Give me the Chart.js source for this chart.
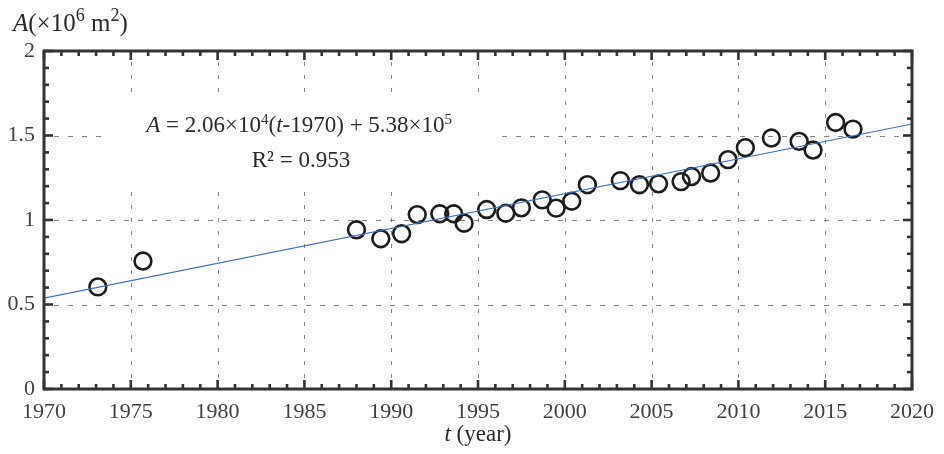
<!DOCTYPE html>
<html><head><meta charset="utf-8">
<script src="https://cdn.jsdelivr.net/npm/chart.js@4.4.0/dist/chart.umd.min.js"></script>
<style>html,body{margin:0;padding:0;background:#fff}#wrap{width:944px;height:454px}</style>
</head><body><div id="wrap"><canvas id="c" width="944" height="454"></canvas></div>
<script>
// ---- data ----
const years = [1973.1, 1975.7, 1988.0, 1989.4, 1990.6, 1991.5, 1992.8, 1993.6, 1994.2, 1995.5,
  1996.6, 1997.5, 1998.7, 1999.5, 2000.4, 2001.3, 2003.2, 2004.3, 2005.4, 2006.7,
  2007.3, 2008.4, 2009.4, 2010.4, 2011.9, 2013.5, 2014.3, 2015.6, 2016.6];
const areas = [0.604, 0.757, 0.942, 0.889, 0.919, 1.032, 1.037, 1.037, 0.981, 1.062,
  1.040, 1.072, 1.119, 1.070, 1.111, 1.209, 1.233, 1.209, 1.214, 1.227,
  1.257, 1.278, 1.357, 1.428, 1.485, 1.465, 1.414, 1.577, 1.538];
const fitYears = [1970, 2020];
const fitAreas = [0.538, 1.568];
const xTickValues = [1970, 1975, 1980, 1985, 1990, 1995, 2000, 2005, 2010, 2015, 2020];
const xTickLabels = ['1970', '1975', '1980', '1985', '1990', '1995', '2000', '2005', '2010', '2015', '2020'];
const yTickValues = [0, 0.5, 1, 1.5, 2];
const yTickLabels = ['0', '0.5', '1', '1.5', '2'];

const FONT = '"Liberation Serif", "Times New Roman", serif';

function fontFor(s, size, supScale) {
  const sz = s.sup ? Math.round(size * supScale) : size;
  return (s.i ? 'italic ' : '') + sz + 'px ' + FONT;
}
function drawRich(ctx, segs, x, y, align, size, color, supScale = 0.68, supRise = 0.4) {
  const widths = segs.map(s => { ctx.font = fontFor(s, size, supScale); return ctx.measureText(s.t).width; });
  const total = widths.reduce((a, b) => a + b, 0);
  let cx = align === 'center' ? x - total / 2 : x;
  ctx.fillStyle = color;
  ctx.textBaseline = 'alphabetic';
  ctx.textAlign = 'left';
  segs.forEach((s, i) => {
    ctx.font = fontFor(s, size, supScale);
    ctx.fillText(s.t, cx, y - (s.sup ? size * supRise : 0));
    cx += widths[i];
  });
}

const deco = {
  id: 'deco',
  beforeDatasetsDraw(chart) {
    const { ctx, chartArea: a, scales: { x, y } } = chart;
    ctx.save();
    ctx.strokeStyle = '#858585';
    ctx.lineWidth = 1;
    ctx.setLineDash([4, 9]);
    xTickValues.slice(1, -1).forEach(v => {
      const px = Math.round(x.getPixelForValue(v)) + 0.5;
      ctx.beginPath(); ctx.moveTo(px, a.top + 11); ctx.lineTo(px, a.bottom - 11); ctx.stroke();
    });
    ctx.setLineDash([5, 9]);
    yTickValues.slice(1, -1).forEach(v => {
      const py = Math.round(y.getPixelForValue(v)) + 0.5;
      ctx.beginPath(); ctx.moveTo(a.left + 10, py); ctx.lineTo(a.right - 10, py); ctx.stroke();
    });
    ctx.setLineDash([]);
    // white box behind equation
    const bx0 = x.getPixelForValue(1973.5), bx1 = x.getPixelForValue(1996.3);
    const by0 = y.getPixelForValue(1.73), by1 = y.getPixelForValue(1.20);
    ctx.fillStyle = '#fff';
    ctx.fillRect(bx0, by0, bx1 - bx0, by1 - by0);
    // equation
    drawRich(ctx, [{ t: 'A', i: 1 }, { t: ' = 2.06×10' }, { t: '4', sup: 1 }, { t: '(' }, { t: 't', i: 1 },
      { t: '-1970) + 5.38×10' }, { t: '5', sup: 1 }], x.getPixelForValue(1984.7), y.getPixelForValue(1.518), 'center', 23, '#2a2a2a', 0.66, 0.38);
    drawRich(ctx, [{ t: 'R² = 0.953' }], x.getPixelForValue(1984.8), y.getPixelForValue(1.311), 'center', 23, '#2a2a2a');
    ctx.restore();
  },
  afterDraw(chart) {
    const { ctx, chartArea: a, scales: { x, y } } = chart;
    ctx.save();
    ctx.strokeStyle = '#333';
    ctx.lineWidth = 2.6;
    for (let v = 1970; v <= 2020; v++) {
      const px = x.getPixelForValue(v);
      const len = v % 5 === 0 ? 9 : 5;
      ctx.beginPath(); ctx.moveTo(px, a.bottom); ctx.lineTo(px, a.bottom - len); ctx.stroke();
      ctx.beginPath(); ctx.moveTo(px, a.top); ctx.lineTo(px, a.top + len); ctx.stroke();
    }
    for (let k = 0; k <= 20; k++) {
      const py = y.getPixelForValue(k / 10);
      const len = k % 5 === 0 ? 9 : 5;
      ctx.beginPath(); ctx.moveTo(a.left, py); ctx.lineTo(a.left + len, py); ctx.stroke();
      ctx.beginPath(); ctx.moveTo(a.right, py); ctx.lineTo(a.right - len, py); ctx.stroke();
    }
    ctx.lineWidth = 3;
    ctx.strokeRect(a.left, a.top, a.right - a.left, a.bottom - a.top);
    // titles
    drawRich(ctx, [{ t: 'A', i: 1 }, { t: '(×10' }, { t: '6', sup: 1 }, { t: ' m' }, { t: '2', sup: 1 }, { t: ')' }],
      13, 31, 'left', 25, '#2a2a2a', 0.7, 0.4);
    drawRich(ctx, [{ t: 't', i: 1 }, { t: ' (year)' }], (a.left + a.right) / 2, 441, 'center', 23, '#2a2a2a');
    ctx.restore();
  }
};

new Chart(document.getElementById('c'), {
  type: 'scatter',
  data: {
    datasets: [
      {
        label: 'fit', type: 'line',
        data: fitYears.map((t, i) => ({ x: t, y: fitAreas[i] })),
        borderColor: '#3f6fc2', borderWidth: 1.2, pointRadius: 0, fill: false, order: 0
      },
      {
        label: 'A',
        data: years.map((t, i) => ({ x: t, y: areas[i] })),
        pointStyle: 'circle', pointRadius: 8.4, pointHoverRadius: 8.4,
        borderColor: '#1c1c1c', borderWidth: 2.6, backgroundColor: 'rgba(0,0,0,0)', order: 1
      }
    ]
  },
  options: {
    responsive: false, animation: false, devicePixelRatio: 1,
    layout: { padding: { left: 0, right: 30, top: 51, bottom: 0 } },
    plugins: { legend: { display: false }, tooltip: { enabled: false } },
    scales: {
      x: {
        type: 'linear', min: 1970, max: 2020,
        afterBuildTicks: s => { s.ticks = xTickValues.map(v => ({ value: v })); },
        ticks: {
          callback: v => xTickLabels[xTickValues.indexOf(v)] ?? '',
          font: { family: FONT, size: 22 }, color: '#404040', padding: 10, maxRotation: 0, autoSkip: false
        },
        grid: { display: false, drawTicks: false },
        border: { display: false },
        afterFit: s => { s.height = 65; }
      },
      y: {
        type: 'linear', min: 0, max: 2,
        afterBuildTicks: s => { s.ticks = yTickValues.map(v => ({ value: v })); },
        ticks: {
          callback: v => yTickLabels[yTickValues.indexOf(v)] ?? '',
          font: { family: FONT, size: 22 }, color: '#404040', padding: 9
        },
        grid: { display: false, drawTicks: false },
        border: { display: false },
        afterFit: s => { s.width = 44; }
      }
    }
  },
  plugins: [deco]
});
</script></body></html>
